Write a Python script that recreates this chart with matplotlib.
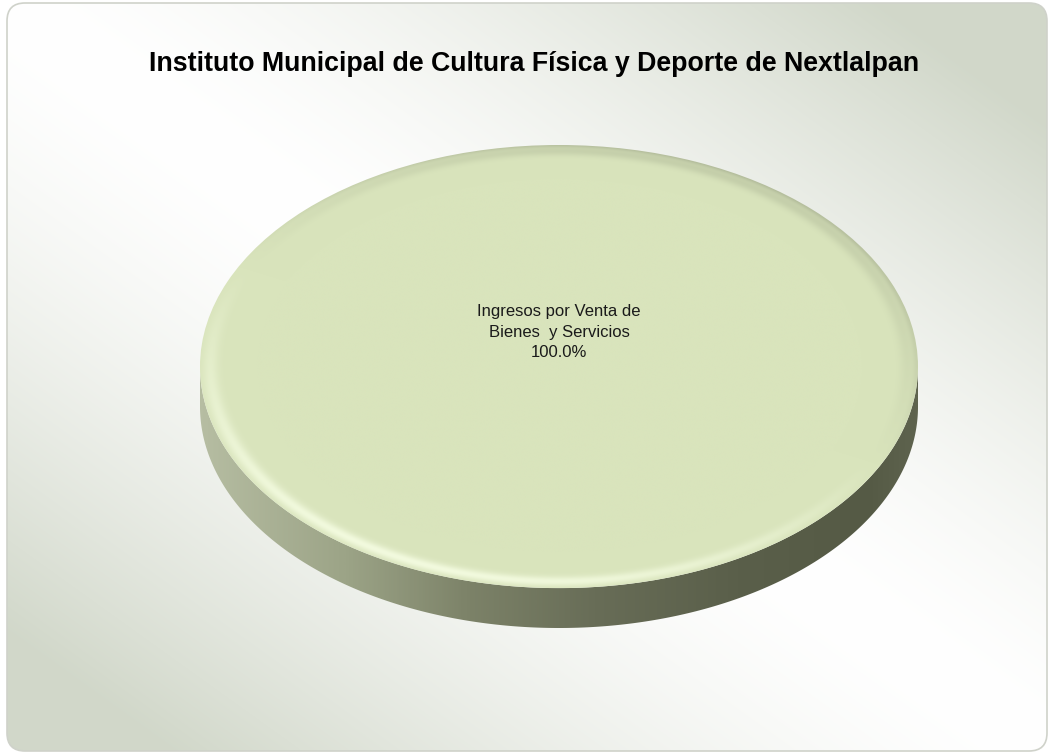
import numpy as np
import matplotlib.pyplot as plt
from matplotlib.patches import Wedge, Polygon, FancyBboxPatch
from matplotlib.colors import LinearSegmentedColormap

plt.rcParams['font.family'] = ['Liberation Sans', 'DejaVu Sans']

title = 'Instituto Municipal de Cultura Física y Deporte de Nextlalpan'
categories = ['Ingresos por Venta de\nBienes  y Servicios']
values = [100.0]
top_colors = ['#D9E4BC']

W, H = 1050, 754
fig = plt.figure(figsize=(W / 100, H / 100), dpi=100)

# background with rounded frame and diagonal gradient
bg = fig.add_axes([0, 0, 1, 1])
bg.set_xlim(0, W)
bg.set_ylim(H, 0)
bg.set_axis_off()
yy, xx = np.mgrid[0:1:H * 1j, 0:1:W * 1j]
u = np.clip(np.abs(xx - yy) * 1.2, 0, 1) ** 1.5
white = np.array([1.0, 1.0, 1.0])
gray = np.array([0.82, 0.845, 0.79])
img = white + (gray - white) * u[..., None]
frame = FancyBboxPatch((7, 3), W - 10, H - 6, boxstyle='round,pad=0,rounding_size=18',
                       facecolor='none', edgecolor='#CFD2CA', linewidth=1.2)
bg.add_patch(frame)
im = bg.imshow(img, extent=[0, W, H, 0], aspect='auto')
im.set_clip_path(frame)

fig.text(534 / W, 1 - 64 / H, title, ha='center', va='center',
         fontsize=19.3, fontweight='bold', color='#000000')

# pie axes (elliptical 3d look)
depth = 0.18
ax = fig.add_axes([200 / W, 1 - 628 / H, 718 / W, 483 / H])
ax.set_xlim(-1, 1)
ax.set_ylim(-1 - depth, 1)
ax.set_axis_off()

wall_cmap = LinearSegmentedColormap.from_list('wall', [
    (0.0, '#B6BDA2'), (0.2, '#9CA487'), (0.375, '#7C8268'),
    (0.55, '#686D57'), (0.75, '#5A5F4A'), (0.93, '#555A45'), (1.0, '#5E634E')])

total = sum(values)
start = 90.0
for val, col, cat in zip(values, top_colors, categories):
    frac = val / total
    t1, t2 = start - 360 * frac, start
    start = t1

    # front wall (visible where sin < 0)
    ts = np.radians(np.linspace(t1, t2, 721))
    ts = ts[np.sin(ts) <= 0.0001]
    if len(ts) > 1:
        top = np.column_stack([np.cos(ts), np.sin(ts)])
        bot = top - [0, depth]
        wall = Polygon(np.vstack([top, bot[::-1]]), closed=True, facecolor='none', edgecolor='none')
        ax.add_patch(wall)
        grad = np.linspace(0, 1, 400)[None, :]
        wim = ax.imshow(grad, cmap=wall_cmap, extent=[-1, 1, -1 - depth, 0.05], aspect='auto')
        wim.set_clip_path(wall)

    # top face with bevel highlight
    face = Wedge((0, 0), 1, t1, t2, facecolor='none', edgecolor='none')
    ax.add_patch(face)
    gy, gx = np.mgrid[1:-1:500j, -1:1:800j]
    r = np.hypot(gx, gy) + 1e-9
    L = np.array([-0.45, -0.9]) / np.hypot(0.45, 0.9)
    dot = (gx * L[0] + gy * L[1]) / r
    rim = np.exp(-((r - 0.972) / 0.022) ** 2)
    base = np.array(tuple(int(col[i:i + 2], 16) for i in (1, 3, 5))) / 255
    hi = np.array([242, 250, 222]) / 255
    sh = np.array([150, 158, 130]) / 255
    pos = np.clip(dot, 0, 1)[..., None]
    neg = np.clip(-dot, 0, 1)[..., None] * 0.6
    edge = np.exp(-((r - 1.0) / 0.012) ** 2)[..., None] * np.clip(-dot, 0, 1)[..., None] * 0.5
    timg = base + rim[..., None] * (pos * (hi - base) + neg * (sh - base) * 0.5) + edge * (sh - base)
    timg = np.clip(timg, 0, 1)
    fim = ax.imshow(timg, extent=[-1, 1, -1, 1], aspect='auto')
    fim.set_clip_path(face)

    if frac >= 0.999:
        lx, ly = 0.0, 0.155
    else:
        mid = np.radians((t1 + t2) / 2)
        lx, ly = 0.6 * np.cos(mid), 0.6 * np.sin(mid)
    ax.text(lx, ly, f'{cat}\n{100 * frac:.1f}%', ha='center', va='center',
            fontsize=12, color='#1A1A1A', linespacing=1.45)

ax.set_xlim(-1, 1)
ax.set_ylim(-1 - depth, 1)

fig.savefig('out.png', dpi=100)
